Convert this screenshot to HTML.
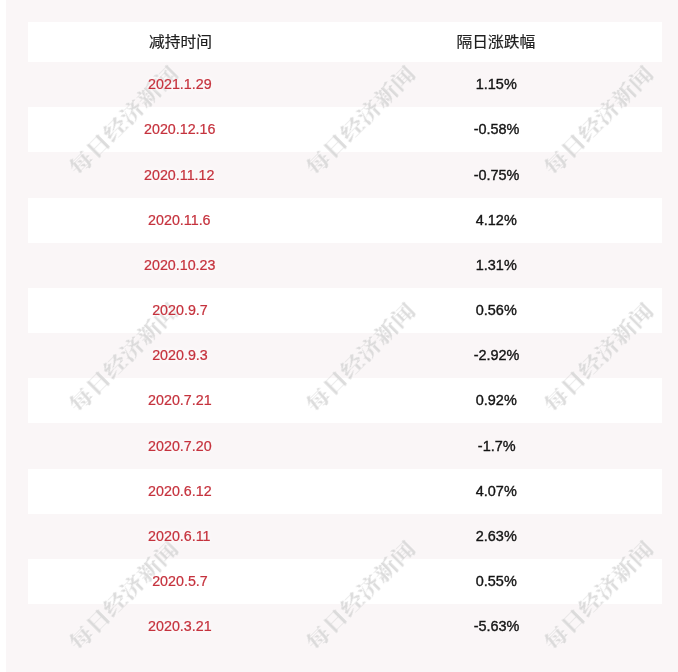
<!DOCTYPE html>
<html lang="zh-CN"><head><meta charset="utf-8"><title>减持时间 隔日涨跌幅</title>
<style>
html,body{margin:0;padding:0;}
body{width:678px;height:672px;overflow:hidden;background:#faf6f7;position:relative;font-family:"Liberation Sans","Noto Sans CJK SC",sans-serif;}
.strip{position:absolute;left:0;top:0;width:6px;height:672px;background:#fff;}
.table{position:absolute;left:28px;top:0;width:634px;height:672px;}
.tr{position:absolute;left:0;width:634px;}
.tr.w{background:#fff;}
.td{z-index:2;position:absolute;width:200px;height:16px;line-height:16px;text-align:center;white-space:nowrap;font-size:14px;}
.td.c1{left:52px;}
.td.c2{left:368px;}
.td span{display:inline-block;will-change:transform;transform:translate(0.4px,0) scaleX(1.032);-webkit-text-stroke:0.36px currentColor;}
.th{font-size:15px;color:#1f1f1f;height:20px;line-height:20px;top:10px;}
.th span{transform:translate(0.4px,0) scaleX(1.05);-webkit-text-stroke:0.2px currentColor;}
.d{color:#c5323d;}
.d span{-webkit-text-stroke:0.22px currentColor;transform:translate(-0.3px,0) scaleX(1.02);}
.d span{text-shadow:0 0 2px #faf6f7,0 0 4px #faf6f7,0 0 6px #faf6f7;}
.w .d span{text-shadow:0 0 2px #fff,0 0 4px #fff,0 0 6px #fff;}
.v{color:#141414;}
.wms{position:absolute;left:0;top:0;width:678px;height:672px;overflow:hidden;pointer-events:none;}
.wm{z-index:1;position:absolute;width:200px;height:30px;margin-left:-100px;margin-top:-15px;line-height:30px;text-align:center;font-family:"Liberation Serif","Noto Serif CJK SC",serif;font-weight:700;font-size:24px;color:rgba(120,120,120,0.26);transform:rotate(-45deg) scaleY(0.86);white-space:nowrap;text-shadow:0 0 2px rgba(255,255,255,0.9);filter:blur(0.4px);}
</style></head><body>
<div class="strip"></div>
<div class="table">
<div class="tr w" style="top:22px;height:40px"><div class="td th c1"><span>减持时间</span></div><div class="td th c2"><span>隔日涨跌幅</span></div></div>
<div class="tr" style="top:62px;height:45px"><div class="td d c1" style="top:14px"><span>2021.1.29</span></div><div class="td v c2" style="top:14px"><span>1.15%</span></div></div>
<div class="tr w" style="top:107px;height:45px"><div class="td d c1" style="top:14px"><span>2020.12.16</span></div><div class="td v c2" style="top:14px"><span>-0.58%</span></div></div>
<div class="tr" style="top:152px;height:46px"><div class="td d c1" style="top:15px"><span>2020.11.12</span></div><div class="td v c2" style="top:15px"><span>-0.75%</span></div></div>
<div class="tr w" style="top:198px;height:45px"><div class="td d c1" style="top:14px"><span>2020.11.6</span></div><div class="td v c2" style="top:14px"><span>4.12%</span></div></div>
<div class="tr" style="top:243px;height:45px"><div class="td d c1" style="top:14px"><span>2020.10.23</span></div><div class="td v c2" style="top:14px"><span>1.31%</span></div></div>
<div class="tr w" style="top:288px;height:45px"><div class="td d c1" style="top:14px"><span>2020.9.7</span></div><div class="td v c2" style="top:14px"><span>0.56%</span></div></div>
<div class="tr" style="top:333px;height:45px"><div class="td d c1" style="top:14px"><span>2020.9.3</span></div><div class="td v c2" style="top:14px"><span>-2.92%</span></div></div>
<div class="tr w" style="top:378px;height:45px"><div class="td d c1" style="top:14px"><span>2020.7.21</span></div><div class="td v c2" style="top:14px"><span>0.92%</span></div></div>
<div class="tr" style="top:423px;height:46px"><div class="td d c1" style="top:15px"><span>2020.7.20</span></div><div class="td v c2" style="top:15px"><span>-1.7%</span></div></div>
<div class="tr w" style="top:469px;height:45px"><div class="td d c1" style="top:14px"><span>2020.6.12</span></div><div class="td v c2" style="top:14px"><span>4.07%</span></div></div>
<div class="tr" style="top:514px;height:45px"><div class="td d c1" style="top:14px"><span>2020.6.11</span></div><div class="td v c2" style="top:14px"><span>2.63%</span></div></div>
<div class="tr w" style="top:559px;height:45px"><div class="td d c1" style="top:14px"><span>2020.5.7</span></div><div class="td v c2" style="top:14px"><span>0.55%</span></div></div>
<div class="tr" style="top:604px;height:45px"><div class="td d c1" style="top:14px"><span>2020.3.21</span></div><div class="td v c2" style="top:14px"><span>-5.63%</span></div></div>
</div>
<div class="wms">
<div class="wm" style="left:123.8px;top:120.5px">每日经济新闻</div>
<div class="wm" style="left:361.3px;top:120.5px">每日经济新闻</div>
<div class="wm" style="left:598.8px;top:120.5px">每日经济新闻</div>
<div class="wm" style="left:123.8px;top:358.0px">每日经济新闻</div>
<div class="wm" style="left:361.3px;top:358.0px">每日经济新闻</div>
<div class="wm" style="left:598.8px;top:358.0px">每日经济新闻</div>
<div class="wm" style="left:123.8px;top:595.5px">每日经济新闻</div>
<div class="wm" style="left:361.3px;top:595.5px">每日经济新闻</div>
<div class="wm" style="left:598.8px;top:595.5px">每日经济新闻</div>
</div>
</body></html>
